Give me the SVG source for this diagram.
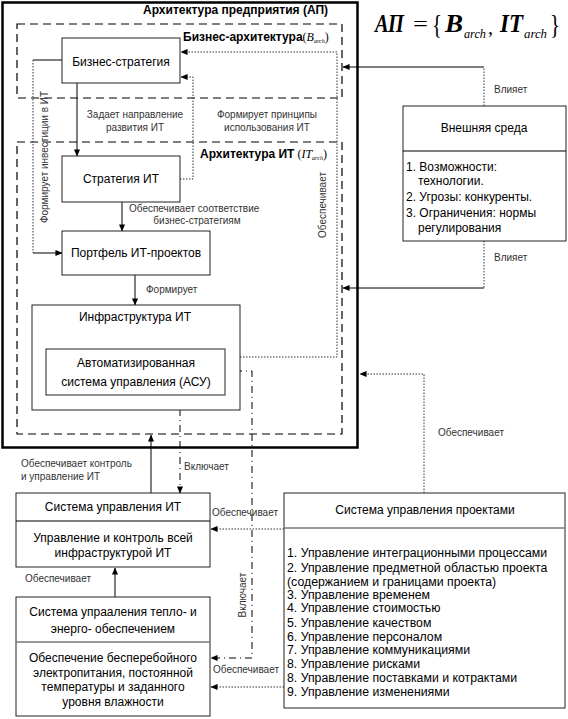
<svg xmlns="http://www.w3.org/2000/svg" width="568" height="719" viewBox="0 0 568 719">
<defs>
<marker id="ah" viewBox="0 0 8 8" refX="7.5" refY="4" markerWidth="7" markerHeight="7" markerUnits="userSpaceOnUse" orient="auto">
<path d="M0,0.5 L8,4 L0,7.5 Z" fill="#000"/>
</marker>
</defs>
<style>
text{font-family:"Liberation Sans",Arial,sans-serif;fill:#000}
.t{font-size:12px;text-anchor:middle}
.tl{font-size:12px}
.pl{font-size:12.3px}
.s{font-size:10px;fill:#333}
.sm{font-size:10px;fill:#333;text-anchor:middle}
.h{font-size:12px;font-weight:bold}
.box{fill:#fff;stroke:#222;stroke-width:1}
.dash{fill:none;stroke:#000;stroke-width:1.2;stroke-dasharray:8 5}
.sol{fill:none;stroke:#000;stroke-width:1}
.dot{fill:none;stroke:#333;stroke-width:1;stroke-dasharray:1.5 1.5}
.dd{fill:none;stroke:#000;stroke-width:1;stroke-dasharray:7 4 1 4}
.f{font-family:"Liberation Serif","Times New Roman",serif}
.fb{font-family:"Liberation Serif","Times New Roman",serif;font-style:italic;font-weight:bold;font-size:26px}
.fs{font-family:"Liberation Serif","Times New Roman",serif;font-style:italic;font-size:13px}
</style>
<rect width="568" height="719" fill="#fff"/>

<g id="ap-frame">
<rect x="2.5" y="2.5" width="355" height="445" fill="none" stroke="#000" stroke-width="2.5"/>
<text class="h" x="143" y="14">Архитектура предприятия (АП)</text>
</g>

<g id="formula">
<text class="fb" x="375" y="32" textLength="29" lengthAdjust="spacingAndGlyphs">АП</text>
<text class="f" x="413" y="31" font-size="22" textLength="15" lengthAdjust="spacingAndGlyphs">=</text>
<text class="f" x="432" y="34" font-size="28" textLength="10" lengthAdjust="spacingAndGlyphs">{</text>
<text class="fb" x="445" y="32" textLength="18" lengthAdjust="spacingAndGlyphs">B</text>
<text class="fs" x="464" y="38" textLength="22" lengthAdjust="spacingAndGlyphs">arch</text>
<text class="f" x="488" y="34" font-size="20">,</text>
<text class="fb" x="500" y="32" textLength="23" lengthAdjust="spacingAndGlyphs">IT</text>
<text class="fs" x="524" y="38" textLength="23" lengthAdjust="spacingAndGlyphs">arch</text>
<text class="f" x="550" y="34" font-size="28" textLength="10" lengthAdjust="spacingAndGlyphs">}</text>
</g>

<g id="business-arch">
<rect class="dash" x="17" y="24" width="325" height="74"/>
<text class="h" x="183" y="41">Бизнес-архитектура<tspan font-weight="normal" class="f" font-size="12">(</tspan><tspan class="f" font-weight="normal" font-style="italic" font-size="12">B</tspan><tspan class="f" font-weight="normal" font-style="italic" font-size="6" dy="2">arch</tspan><tspan class="f" font-weight="normal" font-size="12" dy="-2">)</tspan></text>
</g>

<g id="it-arch">
<rect class="dash" x="17" y="142" width="325" height="292"/>
<text class="h" x="200" y="158">Архитектура ИТ<tspan font-weight="normal" class="f" font-size="12"> (</tspan><tspan class="f" font-weight="normal" font-style="italic" font-size="12">IT</tspan><tspan class="f" font-weight="normal" font-style="italic" font-size="6" dy="2">arch</tspan><tspan class="f" font-weight="normal" font-size="12" dy="-2">)</tspan></text>
</g>

<g id="connectors">
<path class="sol" d="M77,83 V156" marker-end="url(#ah)"/>
<path class="dot" d="M180,179 H193 V77 H181" marker-end="url(#ah)"/>
<path class="dot" d="M240,357 H337 V52 H181" marker-end="url(#ah)"/>
<path class="sol" d="M62,60 H33"/>
<path class="dot" d="M33,60 V253"/>
<path class="sol" d="M33,253 H62" marker-end="url(#ah)"/>
<path class="sol" d="M122,202 V231" marker-end="url(#ah)"/>
<path class="sol" d="M135,275 V305" marker-end="url(#ah)"/>
<path class="sol" d="M79,325 V349" marker-end="url(#ah)"/>
<path class="dd" d="M180,393 V493" marker-end="url(#ah)"/>
<path class="sol" d="M225,371 H235"/>
<path class="dd" d="M235,371 H252 V658 H211" marker-end="url(#ah)"/>
<path class="sol" d="M151,493 V435" marker-end="url(#ah)"/>
<path class="sol" d="M115,597 V568" marker-end="url(#ah)"/>
<path class="dot" d="M284,529 H211" marker-end="url(#ah)"/>
<path class="dot" d="M284,687 H211" marker-end="url(#ah)"/>
<path class="dot" d="M424,493 V374 H360" marker-end="url(#ah)"/>
<path class="dot" d="M484,106 V67"/>
<path class="sol" d="M484,67 H343" marker-end="url(#ah)"/>
<path class="dot" d="M484,241 V288"/>
<path class="sol" d="M484,288 H343" marker-end="url(#ah)"/>

<text class="sm" x="135" y="118">Задает направление</text>
<text class="sm" x="135" y="131">развития ИТ</text>
<text class="sm" x="267" y="118">Формирует принципы</text>
<text class="sm" x="267" y="131">использования ИТ</text>
<text class="s" x="129" y="212">Обеспечивает соответствие</text>
<text class="sm" x="197" y="224">бизнес-стратегиям</text>
<text class="s" x="146" y="293">Формирует</text>
<text class="s" x="84" y="338">Расширяет диапазон ресурсов</text>
<text class="s" x="184" y="470">Включает</text>
<text class="s" x="21" y="467">Обеспечивает контроль</text>
<text class="s" x="21" y="480">и управление ИТ</text>
<text class="s" x="212" y="516">Обеспечивает</text>
<text class="s" x="25" y="582">Обеспечивает</text>
<text class="s" x="213" y="673">Обеспечивает</text>
<text class="s" x="438" y="436">Обеспечивает</text>
<text class="s" x="494" y="93">Влияет</text>
<text class="s" x="494" y="261">Влияет</text>
<text class="sm" transform="translate(326,205) rotate(-90)">Обеспечивает</text>
<text class="sm" transform="translate(48,157) rotate(-90)">Формирует инвестиции в ИТ</text>
<text class="sm" transform="translate(246,595) rotate(-90)">Включает</text>
</g>

<g id="business-strategy">
<rect class="box" x="62" y="38" width="118" height="45"/>
<text class="t" x="121" y="66">Бизнес-стратегия</text>
</g>

<g id="it-strategy">
<rect class="box" x="62" y="156" width="118" height="46"/>
<text class="t" x="121" y="183">Стратегия ИТ</text>
</g>

<g id="it-portfolio">
<rect class="box" x="62" y="231" width="148" height="44"/>
<text class="t" x="136" y="257">Портфель ИТ-проектов</text>
</g>

<g id="it-infrastructure">
<rect class="box" x="32" y="305" width="208" height="105"/>
<text class="t" x="135" y="321">Инфраструктура ИТ</text>
</g>

<g id="asu">
<rect class="box" x="46" y="349" width="179" height="46"/>
<text class="t" x="136" y="367">Автоматизированная</text>
<text class="t" x="136" y="386">система управления (АСУ)</text>
</g>

<g id="it-management">
<rect class="box" x="16" y="493" width="194" height="74"/>
<line x1="16" y1="521" x2="210" y2="521" stroke="#000"/>
<text class="t" x="113" y="511">Система управления ИТ</text>
<text class="t" x="113" y="542">Управление и контроль всей</text>
<text class="t" x="113" y="557">инфраструктурой ИТ</text>
</g>

<g id="power-management">
<rect class="box" x="16" y="597" width="194" height="119"/>
<line x1="16" y1="642" x2="210" y2="642" stroke="#777" stroke-width="1.5"/>
<text class="t" x="113" y="616">Система упрааления тепло- и</text>
<text class="t" x="113" y="633">энерго- обеспечением</text>
<text class="t" x="113" y="662">Обеспечение бесперебойного</text>
<text class="t" x="113" y="677">электропитания, постоянной</text>
<text class="t" x="113" y="691">температуры и заданного</text>
<text class="t" x="113" y="706">уровня влажности</text>
</g>

<g id="external-env">
<rect class="box" x="403" y="106" width="163" height="135"/>
<line x1="403" y1="151" x2="566" y2="151" stroke="#000"/>
<text class="t" x="484" y="132">Внешняя среда</text>
<text class="tl" x="406" y="171">1. Возможности:</text>
<text class="tl" x="418" y="185">технологии.</text>
<text class="tl" x="406" y="201">2. Угрозы: конкуренты.</text>
<text class="tl" x="406" y="217">3. Ограничения: нормы</text>
<text class="tl" x="418" y="232">регулирования</text>
</g>

<g id="project-management">
<rect class="box" x="284" y="493" width="281" height="215"/>
<line x1="284" y1="528" x2="565" y2="528" stroke="#777" stroke-width="1.5"/>
<text class="t" x="425" y="514">Система управления проектами</text>
<text class="pl" x="287" y="557">1. Управление интеграционными процессами</text>
<text class="pl" x="287" y="572">2. Управление предметной областью проекта</text>
<text class="pl" x="287" y="586">(содержанием и границами проекта)</text>
<text class="pl" x="287" y="599">3. Управление временем</text>
<text class="pl" x="287" y="612">4. Управление стоимостью</text>
<text class="pl" x="287" y="627">5. Управление качеством</text>
<text class="pl" x="287" y="641">6. Управление персоналом</text>
<text class="pl" x="287" y="654">7. Управление коммуникациями</text>
<text class="pl" x="287" y="668">8. Управление рисками</text>
<text class="pl" x="287" y="682">8. Управление поставками и котрактами</text>
<text class="pl" x="287" y="696">9. Управление изменениями</text>
</g>
</svg>
